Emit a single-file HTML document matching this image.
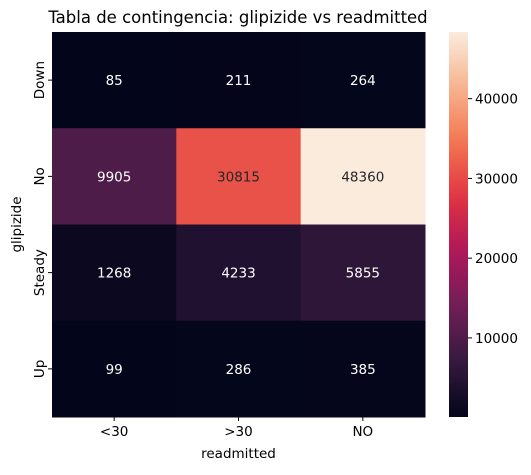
<!DOCTYPE html>
<html><head><meta charset="utf-8"><style>
body{margin:0;background:#fff;}
text{font-family:"DejaVu Sans","Liberation Sans",sans-serif;}
</style></head><body>
<svg id="chart" width="531" height="470" xmlns="http://www.w3.org/2000/svg">
<defs><linearGradient id="cg" x1="0" y1="1" x2="0" y2="0"></linearGradient></defs>
<text x="238" y="23" font-size="16.5" text-anchor="middle" fill="#000">Tabla de contingencia: glipizide vs readmitted</text>
<g id="cells"></g>
<g id="axes"></g>
</svg>
<script>
const cols = ["<30", ">30", "NO"];
const rows = ["Down", "No", "Steady", "Up"];
const vals = [[85,211,264],[9905,30815,48360],[1268,4233,5855],[99,286,385]];
const cbTicks = [10000, 20000, 30000, 40000];

const X0=52, X1=425, Y0=32, Y1=417, CBX=449, CBW=19;
const vmin=85, vmax=48360;
const stops=[[0,[3,5,26]],[0.143,[53,25,62]],[0.286,[112,31,87]],[0.429,[173,23,89]],[0.571,[225,51,66]],[0.714,[243,118,81]],[0.857,[246,180,143]],[1,[250,235,221]]];
function cmap(t){t=Math.max(0,Math.min(1,t));for(let i=1;i<stops.length;i++){if(t<=stops[i][0]){const a=stops[i-1],b=stops[i],f=(t-a[0])/(b[0]-a[0]);const c=a[1].map((v,k)=>Math.round(v+(b[1][k]-v)*f));return `rgb(${c})`;}}return 'rgb(250,235,221)';}
const norm=v=>(v-vmin)/(vmax-vmin);
const cw=(X1-X0)/cols.length, rh=(Y1-Y0)/rows.length;
const xC=i=>X0+cw*(i+0.5), yR=j=>Y0+rh*(j+0.5);
const yCb=v=>Y1-norm(v)*(Y1-Y0);
const NS="http://www.w3.org/2000/svg";
const cells=document.getElementById('cells'), axes=document.getElementById('axes');
function mk(tag,attrs,parent,txt){const e=document.createElementNS(NS,tag);for(const k in attrs)e.setAttribute(k,attrs[k]);if(txt!==undefined)e.textContent=txt;parent.appendChild(e);return e;}
rows.forEach((r,j)=>cols.forEach((c,i)=>{
  const v=vals[j][i];
  const rc=mk('rect',{x:X0+cw*i,y:Y0+rh*j,width:cw+0.5,height:rh+0.5,fill:cmap(norm(v))},cells);
  
  
  const t=mk('text',{x:xC(i),y:yR(j)+5,'font-size':13.5,'text-anchor':'middle',fill:norm(v)>0.6?'#262626':'#fff'},cells,String(v));
  
  
}));
cols.forEach((c,i)=>{
  mk('line',{x1:xC(i),x2:xC(i),y1:Y1,y2:Y1+4,stroke:'#000'},axes);
  const t=mk('text',{x:xC(i),y:Y1+19,'font-size':13.5,'text-anchor':'middle'},axes,c);
  
  
});
rows.forEach((r,j)=>{
  mk('line',{x1:X0-4,x2:X0,y1:yR(j),y2:yR(j),stroke:'#000'},axes);
  const t=mk('text',{x:0,y:0,'font-size':13.5,'text-anchor':'middle',transform:`translate(${X0-8},${yR(j)}) rotate(-90)`},axes,r);
  
  
});
const xt=mk('text',{x:(X0+X1)/2,y:458,'font-size':13.5,'text-anchor':'middle'},axes,'readmitted');


const yt=mk('text',{x:0,y:0,'font-size':13.5,'text-anchor':'middle',transform:`translate(21,${(Y0+Y1)/2}) rotate(-90)`},axes,'glipizide');


const g=document.getElementById('cg');
for(let k=0;k<=20;k++){mk('stop',{offset:k/20,'stop-color':cmap(k/20)},g);}
const cb=mk('rect',{x:CBX,y:Y0,width:CBW,height:Y1-Y0,fill:'url(#cg)'},axes);


cbTicks.forEach(v=>{
  mk('line',{x1:CBX+CBW,x2:CBX+CBW+4,y1:yCb(v),y2:yCb(v),stroke:'#000'},axes);
  const t=mk('text',{x:CBX+CBW+7,y:yCb(v)+5,'font-size':13.5},axes,String(v));
  
  
});
</script>
</body></html>
